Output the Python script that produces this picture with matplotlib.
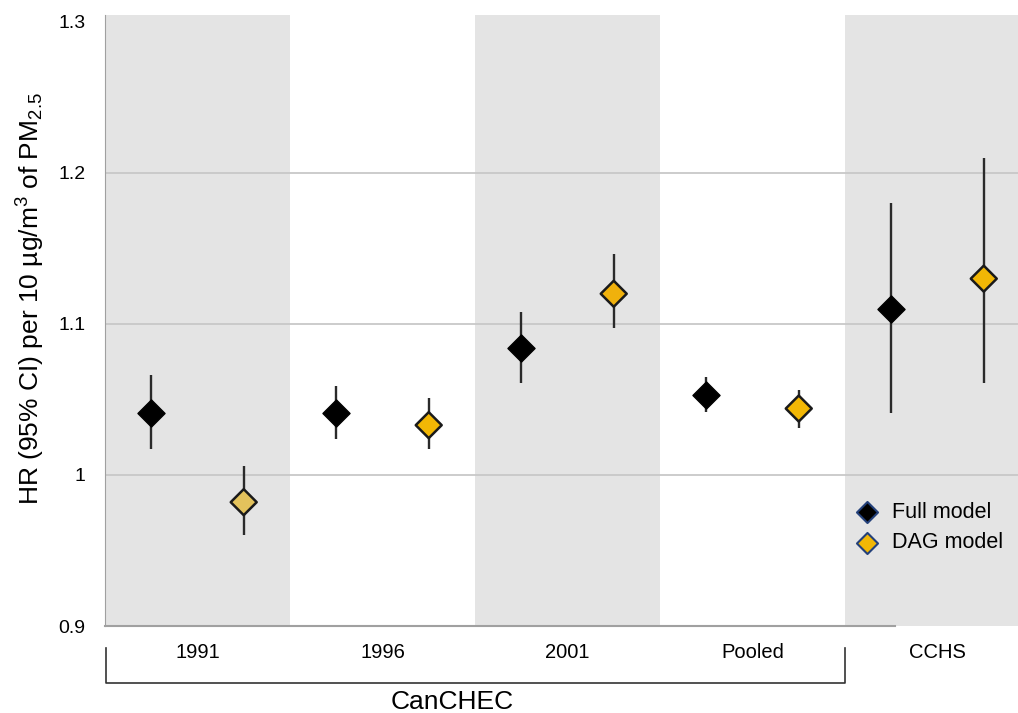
import matplotlib.pyplot as plt
import numpy as np

plt.rcParams['font.family'] = ['Liberation Sans', 'DejaVu Sans']
plt.rcParams['mathtext.default'] = 'regular'

# hazard ratios with 95% CI, per cohort
groups = ["1991", "1996", "2001", "Pooled", "CCHS"]
full_hr = [1.041, 1.041, 1.084, 1.053, 1.110]
full_lo = [1.017, 1.024, 1.061, 1.042, 1.041]
full_hi = [1.066, 1.059, 1.108, 1.065, 1.180]
dag_hr = [0.982, 1.033, 1.120, 1.044, 1.130]
dag_lo = [0.960, 1.017, 1.097, 1.031, 1.061]
dag_hi = [1.006, 1.051, 1.146, 1.056, 1.210]
dag_colors = ["#E3C25C", "#F2B705", "#F0B10C", "#F2B705", "#F2B705"]

fig = plt.figure(figsize=(10.18, 7.13), dpi=100)
ax = fig.add_axes([0.1031, 0.122, 0.8969, 0.857])

# alternating shaded bands
for i in range(len(groups)):
    if i % 2 == 0:
        ax.axvspan(i, i + 1, color="#E4E4E4", zorder=0, lw=0)

for y in [1.0, 1.1, 1.2]:
    ax.axhline(y, color="#C8C8C8", lw=1.3, zorder=1)

x = np.arange(len(groups))
xf = x + 0.25
xd = x + 0.75

ax.vlines(xf, full_lo, full_hi, color="#2a2a2a", lw=1.7, zorder=2)
ax.vlines(xd, dag_lo, dag_hi, color="#2a2a2a", lw=1.7, zorder=2)
ax.scatter(xf, full_hr, marker="D", s=190, color="black", edgecolor="black",
           linewidth=1.0, zorder=3)
ax.scatter(xd, dag_hr, marker="D", s=175, c=dag_colors, edgecolor="#1a1a1a",
           linewidth=1.8, zorder=3)

ax.set_xlim(0, 4.935)
ax.set_ylim(0.9, 1.3046)
ax.set_yticks([0.9, 1.0, 1.1, 1.2, 1.3])
ax.set_yticklabels(["0.9", "1", "1.1", "1.2", "1.3"], fontsize=14)
ax.set_xticks(x + 0.5)
ax.set_xticklabels(groups, fontsize=14.5)
ax.tick_params(axis="x", length=0, pad=12)
ax.tick_params(axis="y", length=0, pad=14)

for s in ["top", "right", "bottom"]:
    ax.spines[s].set_visible(False)
ax.spines["left"].set_color("#A0A0A0")
ax.plot([0, 4.27], [0.9, 0.9], color="#A0A0A0", lw=1.5, clip_on=False, zorder=4)

ax.set_ylabel("HR (95% CI) per 10 µg/m$^3$ of PM$_{2.5}$", fontsize=19)
ax.yaxis.set_label_coords(-0.064, 0.535)

# bracket under the CanCHEC cycles
tr = ax.get_xaxis_transform()
ax.plot([0.005, 0.005, 4.0, 4.0], [-0.036, -0.093, -0.093, -0.036], color="#333333",
        lw=1.2, transform=tr, clip_on=False)
ax.text(1.875, -0.125, "CanCHEC", transform=tr, ha="center", va="center", fontsize=19)

# legend
h1 = ax.scatter([], [], marker="D", s=115, color="black", edgecolor="#23407A", linewidth=1.5)
h2 = ax.scatter([], [], marker="D", s=115, color="#F2B705", edgecolor="#23407A", linewidth=1.5)
ax.legend([h1, h2], ["Full model", "DAG model"], loc="lower right",
          bbox_to_anchor=(1.005, 0.087), frameon=False, fontsize=15.5,
          handletextpad=0.15, labelspacing=0.45)

fig.savefig("out.png", dpi=100)
